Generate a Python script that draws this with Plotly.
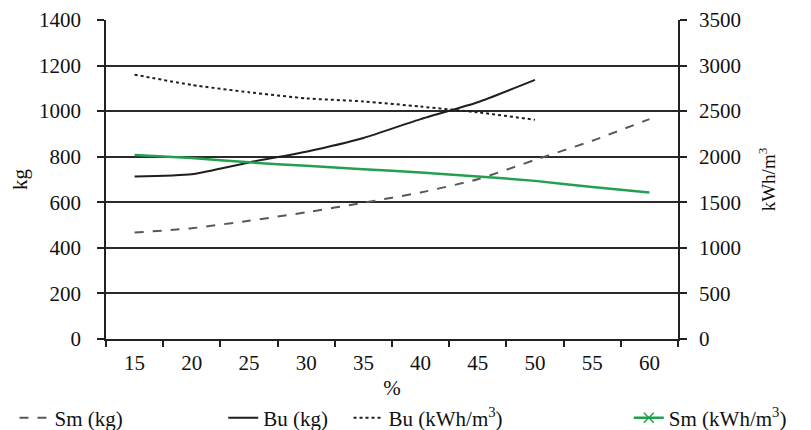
import plotly.graph_objects as go

pct = ["15", "20", "25", "30", "35", "40", "45", "50", "55", "60"]
sm_kg = [467, 486, 519, 556, 598, 643, 701, 786, 870, 965]
bu_kg = [713, 723, 775, 822, 882, 965, 1039, 1137]
bu_kwh = [2900, 2787, 2707, 2640, 2607, 2550, 2487, 2405]
sm_kwh = [2018, 1985, 1938, 1900, 1863, 1828, 1783, 1735, 1668, 1608]

left_ticks = [0, 200, 400, 600, 800, 1000, 1200, 1400]
right_ticks = [0, 500, 1000, 1500, 2000, 2500, 3000, 3500]

FONT = "Liberation Serif"
TF = 21
fig = go.Figure()

fig.add_trace(go.Scatter(x=pct, y=sm_kg, name="Sm (kg)", mode="lines",
                         line=dict(color="#4d5e55", width=2, dash="dash", shape="spline", smoothing=0.5),
                         legend="legend"))
fig.add_trace(go.Scatter(x=pct[:len(bu_kg)], y=bu_kg, name="Bu (kg)", mode="lines",
                         line=dict(color="#1e1e1e", width=2, shape="spline", smoothing=0.5),
                         legend="legend2"))
fig.add_trace(go.Scatter(x=pct[:len(bu_kwh)], y=bu_kwh, name="Bu (kWh/m<sup>3</sup>)", mode="lines",
                         line=dict(color="#1e1e1e", width=2, dash="dot", shape="spline", smoothing=0.5),
                         yaxis="y2", legend="legend3"))
fig.add_trace(go.Scatter(x=pct, y=sm_kwh, name="Sm (kWh/m<sup>3</sup>)", mode="lines",
                         line=dict(color="#23a04f", width=2.5, shape="spline", smoothing=0.5),
                         yaxis="y2", showlegend=False))
fig.add_trace(go.Scatter(x=[None], y=[None], name="Sm (kWh/m<sup>3</sup>)", mode="lines+markers",
                         line=dict(color="#23a04f", width=2.5),
                         marker=dict(symbol="x-thin", size=10, color="#23a04f", line=dict(width=1.5, color="#23a04f")),
                         yaxis="y2", legend="legend4"))

leg_common = dict(orientation="h", yanchor="middle", y=-0.248, xanchor="left",
                  font=dict(family=FONT, size=21, color="#111"), bgcolor="rgba(0,0,0,0)")

ax_common = dict(tickcolor="#222", tickwidth=1.5, showline=True, linecolor="#222", linewidth=1.5,
                 zeroline=False, automargin=False, tickfont=dict(size=TF))

fig.update_layout(
    width=811, height=430,
    margin=dict(l=98, r=141, t=12, b=99, autoexpand=False),
    paper_bgcolor="white", plot_bgcolor="white",
    font=dict(family=FONT, size=TF, color="#111"),
    xaxis=dict(type="category", categoryorder="array", categoryarray=pct,
               range=[-0.5, 9.5], tickson="boundaries", ticks="outside", ticklen=6,
               showgrid=False, ticklabelstandoff=4,
               title=dict(text="%", standoff=6, font=dict(size=TF)), **ax_common),
    xaxis2=dict(type="category", categoryorder="array", categoryarray=pct, overlaying="x",
                range=[-0.5, 9.5], tickson="boundaries", ticks="inside", ticklen=5,
                showticklabels=False, showgrid=False, side="bottom", anchor="y", matches="x",
                **ax_common),
    yaxis=dict(range=[0, 1400], tickvals=left_ticks, ticks="outside", ticklen=7,
               showgrid=True, gridcolor="#2a2a2a", gridwidth=1.5,
               ticklabelstandoff=12,
               title=dict(text="kg", standoff=16, font=dict(size=TF)), **ax_common),
    yaxis3=dict(range=[0, 1400], tickvals=left_ticks, ticks="inside", ticklen=6, overlaying="y",
                side="left", showticklabels=False, showgrid=False, **ax_common),
    yaxis2=dict(range=[0, 3500], tickvals=right_ticks, overlaying="y", side="right",
                ticks="outside", ticklen=7, showgrid=False,
                ticklabelstandoff=8,
                title=dict(text="kWh/m<sup>3</sup>", standoff=22, font=dict(size=19)), **ax_common),
    yaxis4=dict(range=[0, 3500], tickvals=right_ticks, overlaying="y", side="right",
                ticks="inside", ticklen=6, showticklabels=False, showgrid=False, **ax_common),
    legend=dict(**leg_common, x=-0.16),
    legend2=dict(**leg_common, x=0.205),
    legend3=dict(**leg_common, x=0.424),
    legend4=dict(**leg_common, x=0.914),
)

fig.write_html("out.html")
